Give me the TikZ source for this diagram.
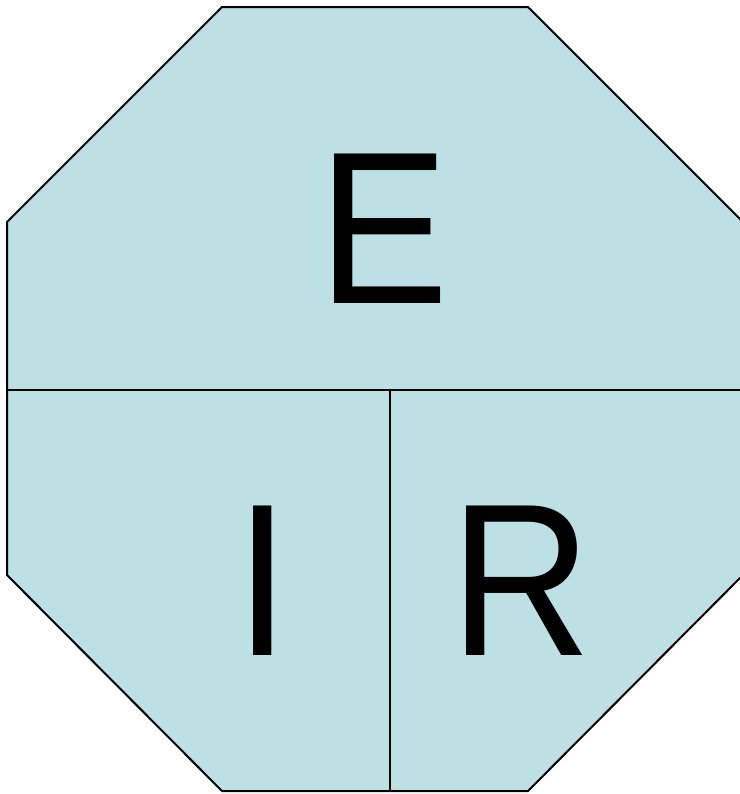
\documentclass[tikz,border=0pt]{standalone}
\usepackage{fontspec}
\setmainfont{Liberation Sans}
\usetikzlibrary{positioning,calc}
\definecolor{Panel}{HTML}{BCE0E3}
\definecolor{Ink}{HTML}{000000}
\newcommand{\narrowtxt}[1]{\scalebox{0.9}[1]{#1}}
\tikzset{
  edge/.style={draw=Ink,line width=1.5pt,line join=miter},
  letter/.style={inner sep=0pt,text=Ink,font=\fontsize{163}{163}\selectfont}
}
\begin{document}
\begin{tikzpicture}[x=0.75pt,y=-0.75pt]
  \useasboundingbox (0,0) rectangle (740,794);
  \clip (0,0) rectangle (740,794);
  % octagon, right side runs past the frame
  \fill[Panel] (222,7) -- (528,7) -- (743,222) -- (743,575) -- (528,791)
    -- (222,791) -- (7,575) -- (7,222) -- cycle;
  \draw[edge] (222,7) -- (528,7) -- (743,222) -- (743,575) -- (528,791)
    -- (222,791) -- (7,575) -- (7,222) -- cycle;
  \coordinate (midL) at (7,390);
  \coordinate (midR) at (743,390);
  \coordinate (splitT) at (390,390);
  \coordinate (splitB) at (390,791);
  \draw[edge] (midL) -- (midR);
  \draw[edge] (splitT) -- (splitB);
  \node[letter] (energy) at (384,229) {\narrowtxt{E}};
  \node[letter] (current) at (263,581) {\narrowtxt{I}};
  \node[letter] (resist) at (521,581) {\narrowtxt{R}};
\end{tikzpicture}
\end{document}
